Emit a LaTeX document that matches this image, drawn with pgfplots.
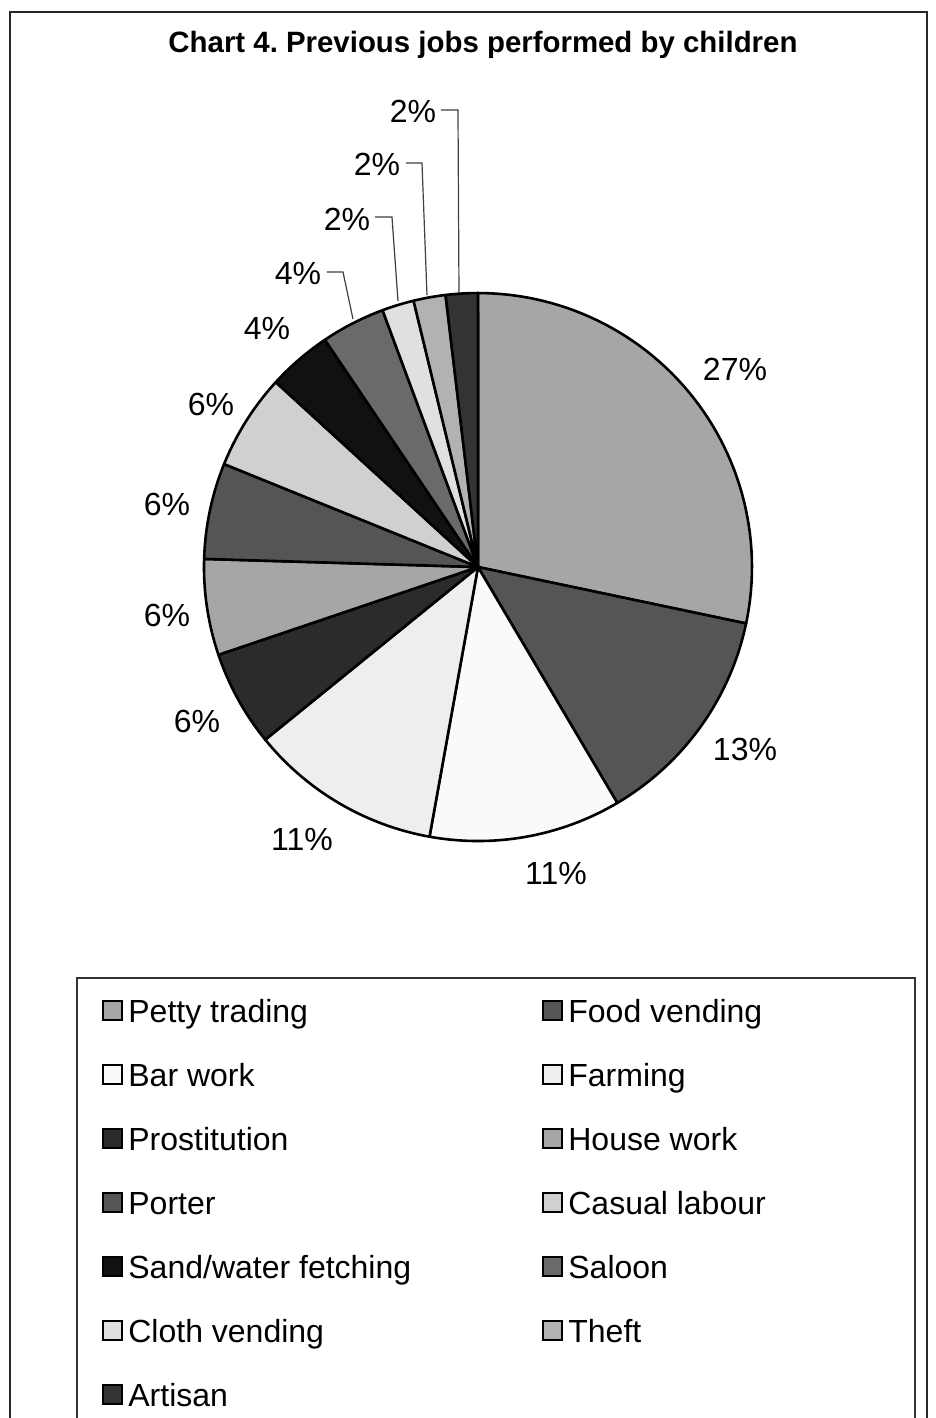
\documentclass[border=0pt]{standalone}
\usepackage{fontspec}
\setmainfont{Liberation Sans}
\usepackage{pgfplots}
\pgfplotsset{compat=1.18}
\frenchspacing
\definecolor{cPetty}{HTML}{A6A6A6}
\definecolor{cFood}{HTML}{555555}
\definecolor{cBar}{HTML}{FAFAFA}
\definecolor{cFarm}{HTML}{EEEEEE}
\definecolor{cProst}{HTML}{2B2B2B}
\definecolor{cHouse}{HTML}{A6A6A6}
\definecolor{cPorter}{HTML}{555555}
\definecolor{cCasual}{HTML}{D0D0D0}
\definecolor{cSand}{HTML}{111111}
\definecolor{cSaloon}{HTML}{6A6A6A}
\definecolor{cCloth}{HTML}{E0E0E0}
\definecolor{cTheft}{HTML}{B2B2B2}
\definecolor{cArtisan}{HTML}{333333}
% counts of children per previous job (total 53); slices run clockwise from the top
% #1 = cumulative count before the slice, #2 = cumulative count after, #3 = colour
\newcommand{\slice}[3]{%
  \addplot[draw=black, line width=1.3bp, line join=round, fill=#3,
    domain={90-360*#2/53}:{90-360*#1/53}, samples=60, variable=\t]
    ({478+274*cos(\t)},{567-274*sin(\t)}) -- (axis cs:478,567) -- cycle;
}
\newcommand{\lab}[3]{\node[anchor=base, inner sep=0pt, font=\fontsize{16bp}{19bp}\selectfont] at (axis cs:#1,#2) {#3};}
\newcommand{\legitem}[4]{%
  \filldraw[fill=#3, draw=black, line width=1bp] (axis cs:#1-25,#2-21) rectangle (axis cs:#1-6,#2-2);
  \node[anchor=base west, inner sep=0pt, font=\fontsize{16bp}{19bp}\selectfont] at (axis cs:#1,#2) {#4};}
\begin{document}
\begin{tikzpicture}
\useasboundingbox (0,0) rectangle (468bp,709bp);
\clip (0,0) rectangle (468bp,709bp);
\fill[white] (0,0) rectangle (468bp,709bp);
\begin{axis}[at={(0,0)}, anchor=south west, x=0.5bp, y=0.5bp, y dir=reverse,
  xmin=0, xmax=936, ymin=0, ymax=1418, hide axis, clip=false]
% frame
\draw[line width=1bp, black!85] (axis cs:10,12) rectangle (axis cs:927,1460);
% title
\node[anchor=base, inner sep=0pt, font=\bfseries\fontsize{14.7bp}{17bp}\selectfont] at (axis cs:483,52) {Chart 4. Previous jobs performed by children};
% slices: Petty trading 15, Food vending 7, Bar work 6, Farming 6, Prostitution 3,
% House work 3, Porter 3, Casual labour 3, Sand/water fetching 2, Saloon 2,
% Cloth vending 1, Theft 1, Artisan 1
\slice{0}{15}{cPetty}
\slice{15}{22}{cFood}
\slice{22}{28}{cBar}
\slice{28}{34}{cFarm}
\slice{34}{37}{cProst}
\slice{37}{40}{cHouse}
\slice{40}{43}{cPorter}
\slice{43}{46}{cCasual}
\slice{46}{48}{cSand}
\slice{48}{50}{cSaloon}
\slice{50}{51}{cCloth}
\slice{51}{52}{cTheft}
\slice{52}{53}{cArtisan}
% leader lines
\draw[line width=0.6bp, black!75] (axis cs:327,272) -- (axis cs:343,272) -- (axis cs:353,319);
\draw[line width=0.6bp, black!75] (axis cs:375,217) -- (axis cs:392,217) -- (axis cs:398,301);
\draw[line width=0.6bp, black!75] (axis cs:406,163) -- (axis cs:422,163) -- (axis cs:427,295);
\draw[line width=0.6bp, black!75] (axis cs:441,110) -- (axis cs:458,110) -- (axis cs:459,293);
% data labels
\lab{735}{380}{27\%}
\lab{745}{760}{13\%}
\lab{556}{884}{11\%}
\lab{302}{850}{11\%}
\lab{197}{732}{6\%}
\lab{167}{626}{6\%}
\lab{167}{515}{6\%}
\lab{211}{415}{6\%}
\lab{267}{339}{4\%}
\lab{298}{284}{4\%}
\lab{347}{230}{2\%}
\lab{377}{175}{2\%}
\lab{413}{122}{2\%}
% legend
\draw[line width=0.7bp, black!80] (axis cs:77,978) rectangle (axis cs:915,1460);
\legitem{128}{1022}{cPetty}{Petty trading}
\legitem{568}{1022}{cFood}{Food vending}
\legitem{128}{1086}{cBar}{Bar work}
\legitem{568}{1086}{cFarm}{Farming}
\legitem{128}{1150}{cProst}{Prostitution}
\legitem{568}{1150}{cHouse}{House work}
\legitem{128}{1214}{cPorter}{Porter}
\legitem{568}{1214}{cCasual}{Casual labour}
\legitem{128}{1278}{cSand}{Sand/water fetching}
\legitem{568}{1278}{cSaloon}{Saloon}
\legitem{128}{1342}{cCloth}{Cloth vending}
\legitem{568}{1342}{cTheft}{Theft}
\legitem{128}{1406}{cArtisan}{Artisan}
\end{axis}
\end{tikzpicture}
\end{document}
